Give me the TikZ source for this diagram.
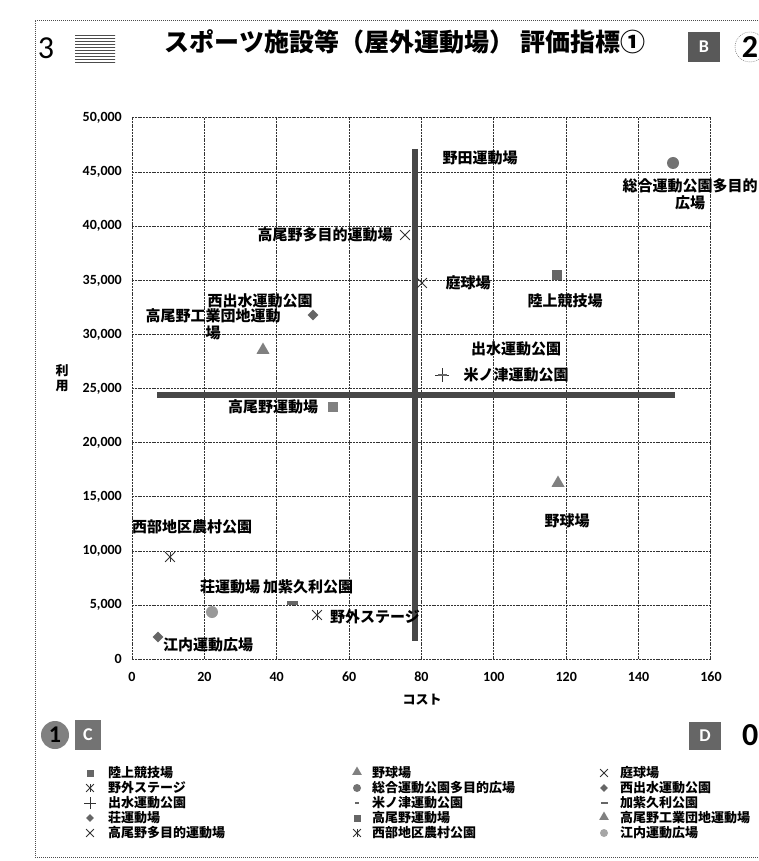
\documentclass[tikz,border=0pt]{standalone}
\usepackage{fontspec}
\setmainfont{Carlito}
\newfontfamily\jp{Noto Sans CJK JP}
\usetikzlibrary{shapes.geometric,shapes.misc,patterns}
\begin{document}
\begin{tikzpicture}[x=1pt,y=-1pt,
  frame/.style={black!70,line width=0.8pt,dash pattern=on 1pt off 1pt},
  grid/.style={black!80,line width=1pt,dash pattern=on 2pt off 0.8pt},
  meanline/.style={black!72,line width=5.5pt},
  tick/.style={font=\bfseries\fontsize{14}{14}\selectfont},
  lbl/.style={font=\jp\bfseries\fontsize{15}{17}\selectfont,inner sep=0pt,align=center},
  leg/.style={font=\jp\bfseries\fontsize{13}{14}\selectfont,anchor=west,inner sep=0pt},
  mksq/.style={rectangle,fill=black!60,minimum size=10pt,inner sep=0pt},
  mktri/.style={regular polygon,regular polygon sides=3,fill=black!50,minimum size=15pt,inner sep=0pt},
  mkcirc/.style={circle,fill=black!55,minimum size=12pt,inner sep=0pt},
  mkdia/.style={diamond,fill=black!60,minimum size=11pt,inner sep=0pt},
  mkx/.style={cross out,draw=black!80,line width=0.8pt,minimum size=9pt,inner sep=0pt},
  mkdash/.style={rectangle,fill=black!60,minimum width=9pt,minimum height=2.5pt,inner sep=0pt},
  lmksq/.style={mksq,minimum size=7pt},
  lmktri/.style={mktri,minimum size=11pt},
  lmkcirc/.style={mkcirc,minimum size=8pt},
  lmkdia/.style={mkdia,minimum size=8pt},
  lmkx/.style={mkx,minimum size=7pt},
  lmkdash/.style={mkdash,minimum width=7pt,minimum height=2pt}
]
\useasboundingbox (0,0) rectangle (758,861);
\fill[white] (0,0) rectangle (758,861);
% outer frame
\draw[frame] (770,20) -- (35,20) -- (35,857) -- (770,857);

% corner marks
\node[font=\fontsize{32}{32}\selectfont,inner sep=0pt] (n3) at (46,48) {3};
\node[rectangle,fill=black!15,pattern=horizontal lines,pattern color=black!70,minimum width=40pt,minimum height=30pt,inner sep=0pt] (boxA) at (95,50) {};
\node[rectangle,fill=black!65,minimum width=32pt,minimum height=30pt,inner sep=0pt,text=white,font=\bfseries\fontsize{18}{18}\selectfont] (boxB) at (704,47) {B};
\node[font=\bfseries\fontsize{32}{32}\selectfont,inner sep=0pt] (n2) at (750,47) {2};
\draw[black!60,dash pattern=on 1pt off 1pt] (n2) circle (15);
\node[circle,fill=black!50,minimum size=28pt,inner sep=0pt,font=\bfseries\fontsize{24}{24}\selectfont] (n1) at (55,735) {1};
\node[rectangle,fill=black!55,minimum width=26pt,minimum height=30pt,inner sep=0pt,text=white,font=\bfseries\fontsize{18}{18}\selectfont] (boxC) at (88,735) {C};
\node[rectangle,fill=black!60,minimum width=32pt,minimum height=28pt,inner sep=0pt,text=white,font=\bfseries\fontsize{18}{18}\selectfont] (boxD) at (705,736) {D};
\node[font=\bfseries\fontsize{32}{32}\selectfont,inner sep=0pt,anchor=west] (n0) at (742,735) {0};

% title
\node[font=\jp\bfseries\fontsize{25}{28}\selectfont,inner sep=0pt] (title) at (405,42) {スポーツ施設等（屋外運動場） 評価指標①};

% grid
\foreach \i in {0,...,8} {
  \pgfmathsetmacro{\gx}{132+72.37*\i}
  \draw[grid] (\gx,118) -- (\gx,659.3);
}
\foreach \j in {0,...,10} {
  \pgfmathsetmacro{\gy}{659.3-54.13*\j}
  \draw[grid] (132,\gy) -- (711,\gy);
}
% tick labels
\foreach \j/\t in {0/0,1/{5,000},2/{10,000},3/{15,000},4/{20,000},5/{25,000},6/{30,000},7/{35,000},8/{40,000},9/{45,000},10/{50,000}} {
  \pgfmathsetmacro{\gy}{659.3-54.13*\j}
  \node[tick,anchor=east,inner sep=0pt] (yt\j) at (122,\gy) {\t};
}
\foreach \i/\t in {0/0,1/20,2/40,3/60,4/80,5/100,6/120,7/140,8/160} {
  \pgfmathsetmacro{\gx}{132+72.37*\i}
  \node[tick,inner sep=0pt] (xt\i) at (\gx,677) {\t};
}
\node[font=\jp\bfseries\fontsize{13}{15}\selectfont,align=center,inner sep=0pt] (ylab) at (62,378) {利\\用};
\node[font=\jp\bfseries\fontsize{13}{15}\selectfont,inner sep=0pt] (xlab) at (422,700) {コスト};

% mean lines
\draw[meanline] (157,395) -- (675,395);
\draw[meanline] (415,149) -- (415,641);

% markers
\node[mksq] (m1) at (557,275) {};
\node[mkcirc] (m5) at (673,163) {};
\node[mkx] (m13) at (405,235) {};
\node[mkx] (m3) at (422,283) {};
\node[mkdia] (m6) at (313,315) {};
\node[mktri] (m12) at (263,350) {};
\node[mksq,fill=black!50] (m11) at (333,407) {};
\node[mkx,rotate=45] (m7) at (442,375) {};
\node[mkdash] (m8) at (442,375) {};
\node[mktri] (m2) at (558,483) {};
\node[mkx] (m14) at (170,557) {};
\draw[black!80,line width=0.8pt] (m14.north) -- (m14.south);
\node[mkcirc,fill=black!40] (m10) at (212,612) {};
\node[mkdash,minimum width=11pt,minimum height=4pt] (m9) at (292,603) {};
\node[mkx] (m4) at (317,615) {};
\draw[black!80,line width=0.8pt] (m4.north) -- (m4.south);
\node[mkdia] (m15) at (158,637) {};

% data labels
\node[lbl] (l0) at (480,158) {野田運動場};
\node[lbl] (l5) at (690,194) {総合運動公園多目的\\広場};
\node[lbl] (l13) at (325,235) {高尾野多目的運動場};
\node[lbl] (l3) at (468,283) {庭球場};
\node[lbl] (l1) at (565,301) {陸上競技場};
\node[lbl] (l6) at (260,301) {西出水運動公園};
\node[lbl] (l12) at (213,324) {高尾野工業団地運動\\場};
\node[lbl] (l7) at (516,349) {出水運動公園};
\node[lbl] (l8) at (516,375) {米ノ津運動公園};
\node[lbl] (l11) at (273,407) {高尾野運動場};
\node[lbl] (l2) at (567,521) {野球場};
\node[lbl] (l14) at (192,527) {西部地区農村公園};
\node[lbl] (l10) at (230,587) {荘運動場};
\node[lbl] (l9) at (308,587) {加紫久利公園};
\node[lbl] (l4) at (375,617) {野外ステージ};
\node[lbl] (l15) at (208,645) {江内運動広場};

% legend
\node[lmksq] (g1) at (90,773) {};   \node[leg] (t1) at (108,773) {陸上競技場};
\node[lmktri] (g2) at (357,772) {};  \node[leg] (t2) at (372,773) {野球場};
\node[lmkx] (g3) at (604,773) {};    \node[leg] (t3) at (620,773) {庭球場};
\node[lmkx] (g4) at (90,788) {};     \draw[black!80,line width=0.8pt] (g4.north) -- (g4.south);
\node[leg] (t4) at (108,788) {野外ステージ};
\node[lmkcirc] (g5) at (357,788) {}; \node[leg] (t5) at (372,788) {総合運動公園多目的広場};
\node[lmkdia] (g6) at (604,788) {};  \node[leg] (t6) at (620,788) {西出水運動公園};
\node[lmkx,rotate=45] (g7) at (90,803) {}; \node[leg] (t7) at (108,803) {出水運動公園};
\node[lmkdash,minimum width=4pt] (g8) at (357,803) {}; \node[leg] (t8) at (372,803) {米ノ津運動公園};
\node[lmkdash] (g9) at (604,803) {}; \node[leg] (t9) at (620,803) {加紫久利公園};
\node[lmkdia] (g10) at (90,818) {};  \node[leg] (t10) at (108,818) {荘運動場};
\node[lmksq] (g11) at (357,818) {};  \node[leg] (t11) at (372,818) {高尾野運動場};
\node[lmktri] (g12) at (604,817) {}; \node[leg] (t12) at (620,818) {高尾野工業団地運動場};
\node[lmkx] (g13) at (90,833) {};    \node[leg] (t13) at (108,833) {高尾野多目的運動場};
\node[lmkx] (g14) at (357,833) {};   \draw[black!80,line width=0.8pt] (g14.north) -- (g14.south);
\node[leg] (t14) at (372,833) {西部地区農村公園};
\node[lmkcirc,fill=black!35] (g15) at (604,833) {}; \node[leg] (t15) at (620,833) {江内運動広場};
\end{tikzpicture}
\end{document}
